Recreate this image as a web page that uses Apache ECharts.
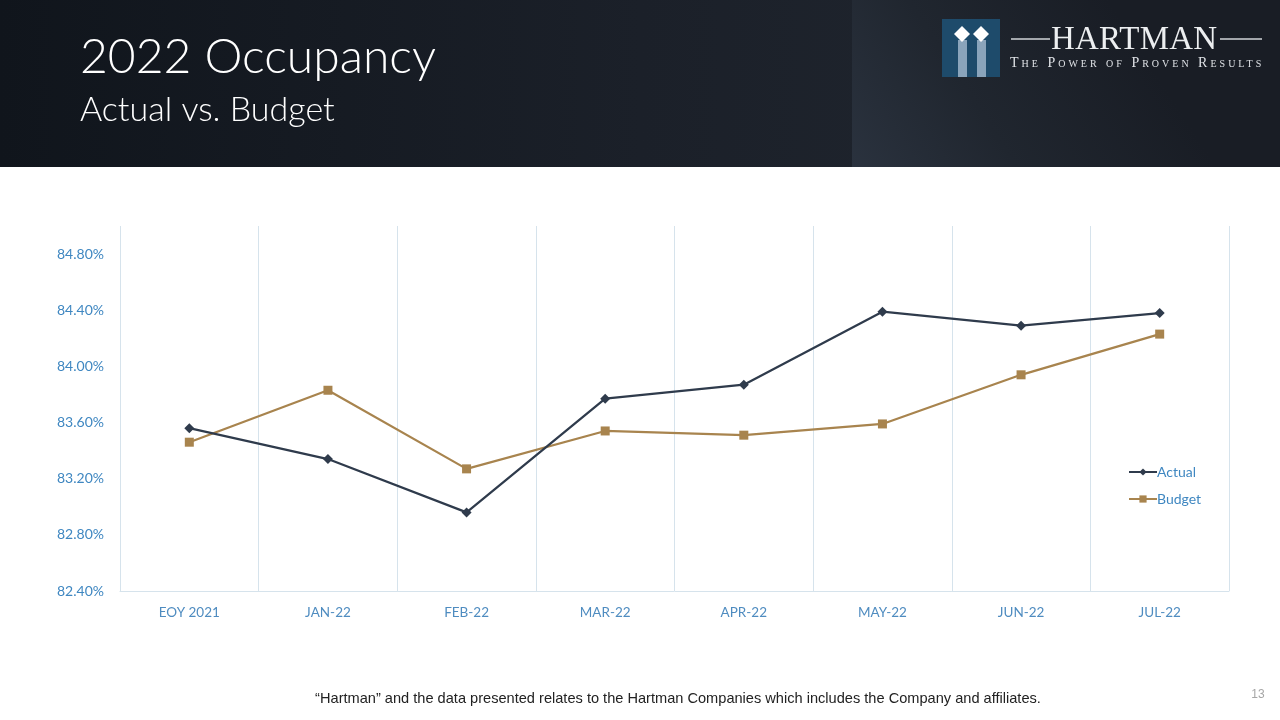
<!DOCTYPE html>
<html><head><meta charset="utf-8">
<script src="https://cdn.jsdelivr.net/npm/echarts@6/dist/echarts.min.js"></script>
<style>
html,body{margin:0;padding:0;background:#fff;}
#wrap{position:relative;width:1280px;height:720px;overflow:hidden;}
#chart{position:absolute;left:0;top:0;width:1280px;height:720px;}
#logoName{position:absolute;left:1051px;top:22px;font-family:"Liberation Serif","DejaVu Serif",serif;font-size:33px;line-height:33px;color:#eceef0;letter-spacing:0.2px;white-space:nowrap;}
#tagline{position:absolute;left:1010px;top:55px;font-family:"Liberation Serif","DejaVu Serif",serif;font-size:14px;line-height:16px;font-variant:small-caps;letter-spacing:3px;color:#dfe2e6;white-space:nowrap;}
</style></head>
<body>
<div id="wrap">
<div id="chart"></div>
<div id="logoName">HARTMAN</div>
<div id="tagline">The Power of Proven Results</div>
</div>
<script>
const categories = ['EOY 2021','JAN-22','FEB-22','MAR-22','APR-22','MAY-22','JUN-22','JUL-22'];
const actual = [83.56, 83.34, 82.96, 83.77, 83.87, 84.39, 84.29, 84.38];
const budget = [83.46, 83.83, 83.27, 83.54, 83.51, 83.59, 83.94, 84.23];
const seriesNames = ['Actual', 'Budget'];
const yMin = 82.4, yMax = 85.0, yStep = 0.4;
const titleText = '2022 Occupancy';
const subtitleText = 'Actual vs. Budget';
const footerText = '\u201CHartman\u201D and the data presented relates to the Hartman Companies which includes the Company and affiliates.';
const pageNumber = '13';

const blue = '#3f87c1';
const xBlue = '#4f8cc0';
const gridColor = '#d6e3ec';

const chart = echarts.init(document.getElementById('chart'));
chart.setOption({
  backgroundColor: '#ffffff',
  animation: false,
  grid: {left: 120, right: 51, top: 226, bottom: 129, containLabel: false},
  legend: {
    data: seriesNames, orient: 'vertical', left: 1128, top: 465,
    itemWidth: 28, itemHeight: 9, itemGap: 13, padding: 0,
    textStyle: {color: blue, fontSize: 14, fontFamily: 'Lato', padding: [0,0,0,-5]}
  },
  xAxis: {
    type: 'category', data: categories, boundaryGap: true,
    axisLine: {show: true, lineStyle: {color: gridColor, width: 1}},
    axisTick: {show: false},
    splitLine: {show: true, lineStyle: {color: gridColor, width: 1}},
    axisLabel: {color: xBlue, fontSize: 13.5, fontFamily: 'Lato', margin: 15}
  },
  yAxis: {
    type: 'value', min: yMin, max: yMax, interval: yStep,
    axisLine: {show: false}, axisTick: {show: false}, splitLine: {show: false},
    axisLabel: {color: blue, fontSize: 14, fontFamily: 'Lato', margin: 16, showMaxLabel: false,
      formatter: v => v.toFixed(2) + '%'}
  },
  series: [
    {name: seriesNames[0], type: 'line', data: actual, symbol: 'diamond', symbolSize: 10,
     lineStyle: {color: '#2f3b4c', width: 2.25}, itemStyle: {color: '#2f3b4c'}, z: 3},
    {name: seriesNames[1], type: 'line', data: budget, symbol: 'rect', symbolSize: 9,
     lineStyle: {color: '#a8844e', width: 2.25}, itemStyle: {color: '#a8844e'}, z: 2}
  ],
  graphic: [
    {type: 'rect', shape: {x: 0, y: 0, width: 1280, height: 167}, z: -10,
     style: {fill: new echarts.graphic.LinearGradient(0, 0, 1, 0, [
       {offset: 0, color: '#10151c'}, {offset: 0.5, color: '#1b2029'}, {offset: 1, color: '#222831'}])}},
    {type: 'rect', shape: {x: 852, y: 0, width: 428, height: 167}, z: -9,
     style: {fill: new echarts.graphic.LinearGradient(0, 1, 0.6, 0, [
       {offset: 0, color: '#2a323e'}, {offset: 0.45, color: '#20262f'}, {offset: 1, color: '#191d25'}])}},
    {type: 'text', left: 80, top: 34, z: 5,
     style: {text: titleText, fill: '#ffffff', fontSize: 48, fontWeight: 300, fontFamily: 'Lato'}},
    {type: 'text', left: 80, top: 93, z: 5,
     style: {text: subtitleText, fill: '#ffffff', fontSize: 34, fontWeight: 300, fontFamily: 'Lato'}},
    {type: 'rect', shape: {x: 942, y: 19, width: 58, height: 58}, z: 5, style: {fill: '#1e4b6b'}},
    {type: 'rect', shape: {x: 958, y: 40, width: 9, height: 37}, z: 6, style: {fill: '#8aa4bb'}},
    {type: 'rect', shape: {x: 977, y: 40, width: 9, height: 37}, z: 6, style: {fill: '#8aa4bb'}},
    {type: 'polygon', shape: {points: [[962,26],[970,34],[962,42],[954,34]]}, z: 7, style: {fill: '#ffffff'}},
    {type: 'polygon', shape: {points: [[981,26],[989,34],[981,42],[973,34]]}, z: 7, style: {fill: '#ffffff'}},
    {type: 'line', shape: {x1: 1011, y1: 39, x2: 1050, y2: 39}, z: 5, style: {stroke: '#d0d4d8', lineWidth: 1.5}},
    {type: 'line', shape: {x1: 1220, y1: 39, x2: 1262, y2: 39}, z: 5, style: {stroke: '#d0d4d8', lineWidth: 1.5}},
    {type: 'text', x: 678, y: 699, z: 5,
     style: {text: footerText, fill: '#222222', fontSize: 14.6, fontFamily: '"Liberation Sans"',
       align: 'center', verticalAlign: 'middle'}},
    {type: 'text', x: 1258, y: 695, z: 5,
     style: {text: pageNumber, fill: '#a6a6a6', fontSize: 12, fontFamily: 'Liberation Sans',
       align: 'center', verticalAlign: 'middle'}}
  ]
});
</script>
</body></html>
